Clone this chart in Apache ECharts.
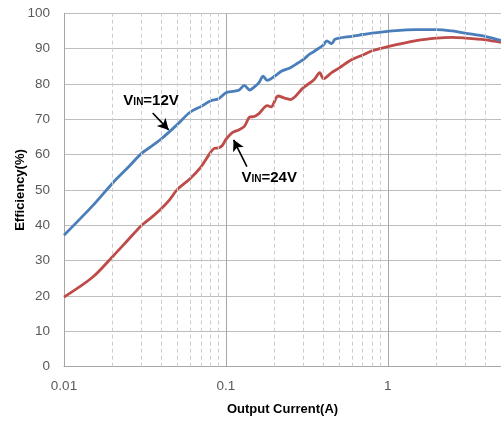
<!DOCTYPE html>
<html>
<head>
<meta charset="utf-8">
<script src="https://cdn.jsdelivr.net/npm/echarts@6/dist/echarts.min.js"></script>
<style>html,body{margin:0;padding:0;background:#fff;}#c{width:501px;height:423px;}</style>
</head>
<body>
<div id="c"></div>
<script>
// ---- data ----
const current12 = [0.01,0.015,0.02,0.025,0.03,0.035,0.04,0.05,0.06,0.07,0.08,0.09,0.1,0.11,0.12,0.13,0.14,0.15,0.16,0.17,0.18,0.2,0.22,0.25,0.28,0.3,0.33,0.35,0.38,0.4,0.42,0.45,0.47,0.5,0.6,0.7,0.8,1,1.5,2,2.5,3,4,5];
const eff12     = [37.2,45.5,52,56.5,60.3,62.5,64.5,68.5,72,73.6,75.2,75.8,77.5,77.9,78.2,79.6,78.3,79.2,80.4,82.2,81,82.2,83.6,84.6,86,86.9,88.5,89.2,90.3,91,92.2,91.4,92.6,93,93.5,94,94.4,94.9,95.4,95.4,95,94.4,93.5,92.3];
const current24 = [0.01,0.015,0.02,0.025,0.03,0.035,0.04,0.045,0.05,0.06,0.07,0.08,0.085,0.09,0.095,0.1,0.11,0.12,0.13,0.14,0.15,0.16,0.18,0.19,0.21,0.23,0.25,0.3,0.35,0.38,0.4,0.45,0.5,0.6,0.7,0.8,1,1.5,2,2.5,3,4,5];
const eff24     = [19.7,25.3,31.2,36,39.9,42.4,44.8,47.3,50.1,53.2,56.5,60.5,61.8,61.9,62.6,64.3,66.3,67,68,70.6,70.8,71.6,73.9,73.5,76.6,76,75.6,78.9,81.2,83.2,81.5,83.2,84.5,86.9,88.2,89.4,90.6,92.3,93,93.2,93,92.5,91.8];
const minorGridX = [0.02,0.03,0.04,0.05,0.06,0.07,0.08,0.09,0.2,0.3,0.4,0.5,0.6,0.7,0.8,0.9,2,3,4];
const xTickLabels = {'-2':'0.01','-1':'0.1','0':'1'};
const seriesNames = ['VIN=12V','VIN=24V'];
// annotation anchors in data space [current, efficiency]
const label12 = [0.0345, 75.3];
const arrow12 = [[0.0353, 71.8],[0.0443, 67.0]];
const label24 = [0.185, 53.7];
const arrow24 = [[0.1348, 56.6],[0.1115, 64.2]];

const pairs = (xs, ys) => xs.map((x,i)=>[x, ys[i]]);
const font = '"Liberation Sans", Arial, sans-serif';
const rich = {
  v:{fontFamily:font,fontWeight:'bold',fontSize:15,lineHeight:16,verticalAlign:'bottom',color:'#000'},
  s:{fontFamily:font,fontWeight:'bold',fontSize:10,lineHeight:16,verticalAlign:'bottom',color:'#000',padding:[0,0,1,0]}
};

const chart = echarts.init(document.getElementById('c'), null, {renderer:'canvas'});
chart.setOption({
  animation:false,
  backgroundColor:'#fff',
  grid:{left:64, right:-2, top:13.3, bottom:56.3, containLabel:false},
  xAxis:{
    type:'log', logBase:10, min:0.01, max:5,
    name:'Output Current(A)', nameLocation:'middle', nameGap:36, nameMoveOverlap:false,
    nameTextStyle:{fontFamily:font,fontWeight:'bold',fontSize:13,color:'#000'},
    axisLine:{show:true,lineStyle:{color:'#a6a6a6',width:1}},
    axisTick:{show:false},
    axisLabel:{fontFamily:font,fontSize:13.5,color:'#595959',margin:13,showMaxLabel:false,
      formatter:v=>{const l=Math.log10(v),k=String(Math.round(l));return (xTickLabels[k]!==undefined&&Math.abs(l-Math.round(l))<1e-6)?xTickLabels[k]:'';}},
    splitLine:{show:true,lineStyle:{color:'#a6a6a6',width:1}}
  },
  yAxis:{
    type:'value', min:0, max:100, interval:10,
    name:'Efficiency(%)', nameLocation:'middle', nameGap:37, nameRotate:90, nameMoveOverlap:false,
    nameTextStyle:{fontFamily:font,fontWeight:'bold',fontSize:13,color:'#000'},
    axisLine:{show:true,lineStyle:{color:'#a6a6a6',width:1}},
    axisTick:{show:false},
    axisLabel:{fontFamily:font,fontSize:13.5,color:'#595959',margin:14},
    splitLine:{show:true,lineStyle:{color:'#bdbdbd',width:1}}
  },
  series:[
    {
      type:'line', name:'minor', data:[], silent:true,
      markLine:{silent:true, symbol:['none','none'], label:{show:false},
        lineStyle:{color:'#cccccc',type:[4,3],width:1},
        data:minorGridX.map(x=>({xAxis:x}))}
    },
    {
      type:'line', name:seriesNames[1], data:pairs(current24,eff24), showSymbol:false, smooth:0.3,
      lineStyle:{color:'#be4b48',width:2.8}, itemStyle:{color:'#be4b48'}, z:3,
      markLine:{silent:true, symbol:['none','arrow'], symbolSize:[9,11], label:{show:false},
        lineStyle:{color:'#000',type:'solid',width:1.6},
        data:[[{coord:arrow24[0]},{coord:arrow24[1]}]]},
      markPoint:{symbol:'circle', symbolSize:0, silent:true,
        label:{show:true, position:'inside', formatter:'{v|V}{s|IN}{v|=24V}', rich:rich},
        data:[{coord:label24}]}
    },
    {
      type:'line', name:seriesNames[0], data:pairs(current12,eff12), showSymbol:false, smooth:0.3,
      lineStyle:{color:'#4a7ebb',width:2.8}, itemStyle:{color:'#4a7ebb'}, z:4,
      markLine:{silent:true, symbol:['none','arrow'], symbolSize:[9,11], label:{show:false},
        lineStyle:{color:'#000',type:'solid',width:1.6},
        data:[[{coord:arrow12[0]},{coord:arrow12[1]}]]},
      markPoint:{symbol:'circle', symbolSize:0, silent:true,
        label:{show:true, position:'inside', formatter:'{v|V}{s|IN}{v|=12V}', rich:rich},
        data:[{coord:label12}]}
    }
  ]
});
</script>
</body>
</html>
